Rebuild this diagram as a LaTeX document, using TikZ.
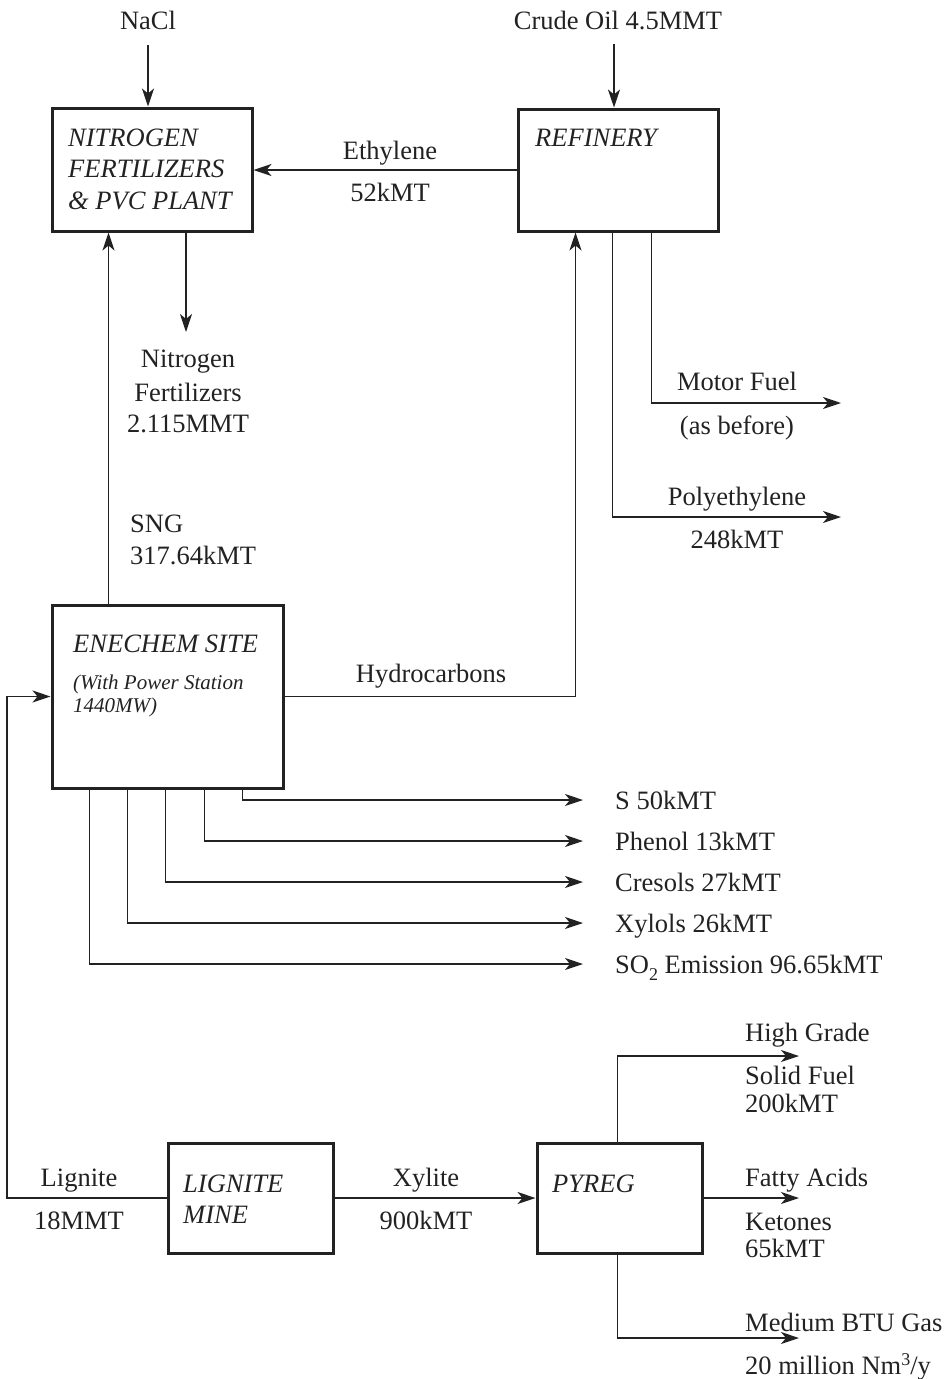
\documentclass[tikz,border=0pt]{standalone}
\usepackage{fontspec}
\setmainfont{Liberation Serif}
\usetikzlibrary{arrows.meta}
\definecolor{ink}{HTML}{222222}
\begin{document}
\begin{tikzpicture}[x=1pt,y=-1pt,
  box/.style={draw=ink, line width=3pt, inner sep=0pt},
  lbl/.style={text=ink, inner sep=0pt, anchor=base, font=\fontsize{26.5}{30}\selectfont},
  lbw/.style={lbl, anchor=base west},
  itl/.style={text=ink, inner sep=0pt, anchor=base west, font=\fontsize{26.5}{30}\selectfont\itshape},
  sml/.style={text=ink, inner sep=0pt, anchor=base west, font=\fontsize{21}{24}\selectfont\itshape},
  con/.style={draw=ink, line width=1.5pt},
  arr/.style={con, -{Stealth[length=18pt,width=12pt,inset=5pt]}}]
\useasboundingbox (0,0) rectangle (952,1379);

% boxes
\node[box, minimum width=200pt, minimum height=123pt] (nit) at (152,169.5) {};
\node[box, minimum width=200pt, minimum height=122pt] (ref) at (618,170) {};
\node[box, minimum width=231pt, minimum height=183pt] (ene) at (167.5,696.5) {};
\node[box, minimum width=165pt, minimum height=110pt] (mine) at (250.5,1198) {};
\node[box, minimum width=165pt, minimum height=110pt] (pyr) at (619.5,1198) {};

% box texts
\node[itl] (nit1) at (68,146) {NITROGEN};
\node[itl] (nit2) at (68,177) {FERTILIZERS};
\node[itl] (nit3) at (68,209) {\& PVC PLANT};
\node[itl] (reft) at (535,146) {REFINERY};
\node[itl] (enet) at (73,652) {ENECHEM SITE};
\node[sml] (ene2) at (73,689) {(With Power Station};
\node[sml] (ene3) at (73,712) {1440MW)};
\node[itl] (mine1) at (183,1192) {LIGNITE};
\node[itl] (mine2) at (183,1223) {MINE};
\node[itl] (pyrt) at (552,1192) {PYREG};

% labels
\node[lbl] (nacl) at (148,29) {NaCl};
\node[lbl] (crude) at (618,29) {Crude Oil 4.5MMT};
\node[lbl] (eth1) at (390,159) {Ethylene};
\node[lbl] (eth2) at (390,201) {52kMT};
\node[lbl] (nf1) at (188,367) {Nitrogen};
\node[lbl] (nf2) at (188,401) {Fertilizers};
\node[lbl] (nf3) at (188,432) {2.115MMT};
\node[lbw] (sng1) at (130,532) {SNG};
\node[lbw] (sng2) at (130,564) {317.64kMT};
\node[lbl] (mf1) at (737,390) {Motor Fuel};
\node[lbl] (mf2) at (737,434) {(as before)};
\node[lbl] (pe1) at (737,505) {Polyethylene};
\node[lbl] (pe2) at (737,548) {248kMT};
\node[lbl] (hc) at (431,682) {Hydrocarbons};
\node[lbw] (s1) at (615,809) {S 50kMT};
\node[lbw] (s2) at (615,850) {Phenol 13kMT};
\node[lbw] (s3) at (615,891) {Cresols 27kMT};
\node[lbw] (s4) at (615,932) {Xylols 26kMT};
\node[lbw] (s5) at (615,973) {SO\raisebox{-7pt}{\fontsize{18}{20}\selectfont 2} Emission 96.65kMT};
\node[lbl] (lg1) at (79,1186) {Lignite};
\node[lbl] (lg2) at (79,1229) {18MMT};
\node[lbl] (xy1) at (426,1186) {Xylite};
\node[lbl] (xy2) at (426,1229) {900kMT};
\node[lbw] (hg1) at (745,1041) {High Grade};
\node[lbw] (hg2) at (745,1084) {Solid Fuel};
\node[lbw] (hg3) at (745,1112) {200kMT};
\node[lbw] (fa1) at (745,1186) {Fatty Acids};
\node[lbw] (fa2) at (745,1230) {Ketones};
\node[lbw] (fa3) at (745,1257) {65kMT};
\node[lbw] (mb1) at (745,1331) {Medium BTU Gas};
\node[lbw] (mb2) at (745,1374) {20 million Nm\raisebox{9pt}{\fontsize{18}{20}\selectfont 3}/y};

% coordinates for free ends
\coordinate (nacl0) at (148,45);
\coordinate (crude0) at (614,44);
\coordinate (nfout) at (186,332);
\coordinate (mfend) at (841,403);
\coordinate (peend) at (841,517);
\coordinate (o1) at (583,800);
\coordinate (o2) at (583,841);
\coordinate (o3) at (583,882);
\coordinate (o4) at (583,923);
\coordinate (o5) at (583,964);
\coordinate (lig) at (7,1198);
\coordinate (hgend) at (799,1056);
\coordinate (mbend) at (799,1338);

% connectors
\draw[arr] (nacl0) -- (nacl0 |- nit.north);
\draw[arr] (crude0) -- (crude0 |- ref.north);
\draw[arr] (ref.west) -- (ref.west -| nit.east);
\draw[arr] (nfout |- nit.south) -- (nfout);
\draw[arr] ([xshift=58pt]ene.north west) -- ([xshift=58pt]ene.north west |- nit.south);
\draw[arr] (ene.east) -| ([xshift=59pt]ref.south west);
\draw[arr] ([xshift=135pt]ref.south west) |- (mfend);
\draw[arr] ([xshift=96pt]ref.south west) |- (peend);
\draw[arr] ([xshift=192pt]ene.south west) |- (o1);
\draw[arr] ([xshift=154pt]ene.south west) |- (o2);
\draw[arr] ([xshift=115pt]ene.south west) |- (o3);
\draw[arr] ([xshift=77pt]ene.south west) |- (o4);
\draw[arr] ([xshift=39pt]ene.south west) |- (o5);
\draw[arr] (mine.west) -- (lig) |- (ene.west);
\draw[arr] (mine.east) -- (pyr.west);
\draw[arr] ([xshift=-2pt]pyr.north) |- (hgend);
\draw[arr] (pyr.east) -- (pyr.east -| hgend);
\draw[arr] ([xshift=-2pt]pyr.south) |- (mbend);
\end{tikzpicture}
\end{document}
